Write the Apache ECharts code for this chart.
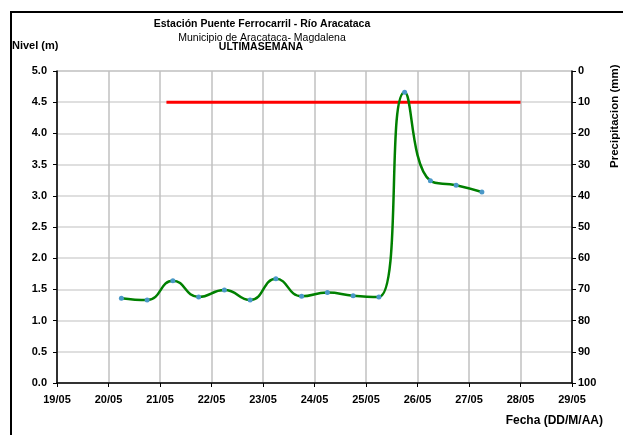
<!DOCTYPE html>
<html>
<head>
<meta charset="utf-8">
<script src="https://cdn.jsdelivr.net/npm/echarts@6/dist/echarts.min.js"></script>
<style>
  html, body { margin: 0; padding: 0; background: #fff; }
  #chart { width: 623px; height: 435px; }
</style>
</head>
<body>
<div id="chart"></div>
<script>
// fechas del eje x (un tick por dia)
var dayLabels = ['19/05', '20/05', '21/05', '22/05', '23/05', '24/05', '25/05', '26/05', '27/05', '28/05', '29/05'];

// lecturas de nivel (dia/mes hora)
var levelTimes = ['20/05 06:00', '20/05 18:00', '21/05 06:00', '21/05 18:00', '22/05 06:00', '22/05 18:00',
                  '23/05 06:00', '23/05 18:00', '24/05 06:00', '24/05 18:00', '25/05 06:00', '25/05 18:00',
                  '26/05 06:00', '26/05 18:00', '27/05 06:00'];
var levelValues = [1.36, 1.33, 1.64, 1.38, 1.49, 1.33, 1.67, 1.39, 1.45, 1.40, 1.38, 4.66, 3.24, 3.17, 3.06];

// nivel de alerta
var alertTimes = ['21/05 03:00', '28/05 00:00'];
var alertValues = [4.5, 4.5];

// eje derecho precipitacion
var precipMin = 0, precipMax = 100, precipStep = 10;

// "dd/mm hh:mm" -> dias desde 19/05 00:00
function toDay(s) {
    var parts = s.split(' ');
    var hm = parts[1].split(':');
    var idx = dayLabels.indexOf(parts[0]);
    return idx + (parseInt(hm[0]) + parseInt(hm[1]) / 60) / 24;
}

var levelData = levelTimes.map(function (t, i) { return [toDay(t), levelValues[i]]; });
var alertData = alertTimes.map(function (t, i) { return [toDay(t), alertValues[i]]; });

var boldLabel = { color: '#000', fontSize: 11, fontWeight: 'bold', fontFamily: 'Arial' };

var myChart = echarts.init(document.getElementById('chart'));

var option = {
    animation: false,
    backgroundColor: '#fff',
    title: [
        {
            text: 'Estación Puente Ferrocarril - Río Aracataca',
            left: 262, top: 19, textAlign: 'center', padding: 0,
            textStyle: { fontSize: 10.5, fontWeight: 'bold', color: '#000', fontFamily: 'Arial' }
        },
        {
            text: 'Municipio de Aracataca- Magdalena',
            left: 262, top: 32.5, textAlign: 'center', padding: 0,
            textStyle: { fontSize: 10.5, fontWeight: 'normal', color: '#000', fontFamily: 'Arial' }
        },
        {
            text: 'ULTIMASEMANA',
            left: 261, top: 41.5, textAlign: 'center', padding: 0,
            textStyle: { fontSize: 10.5, fontWeight: 'bold', color: '#000', fontFamily: 'Arial' }
        }
    ],
    graphic: [
        {
            type: 'rect', silent: true,
            shape: { x: 11, y: 12, width: 700, height: 500 },
            style: { fill: 'none', stroke: '#000', lineWidth: 2 }
        },
        {
            type: 'text', left: 12, top: 40,
            style: { text: 'Nivel (m)', fill: '#000', font: 'bold 11px Arial' }
        },
        {
            type: 'text', right: 20, top: 415,
            style: { text: 'Fecha (DD/M/AA)', fill: '#000', font: 'bold 12px Arial' }
        },
        {
            type: 'text', x: 609, y: 168, rotation: Math.PI / 2,
            style: { text: 'Precipitacion (mm)', fill: '#000', font: 'bold 11.5px Arial' }
        }
    ],
    grid: {
        left: 57, right: 51, top: 71, bottom: 52,
        show: true, borderColor: '#808080', borderWidth: 1
    },
    xAxis: {
        type: 'value',
        min: 0, max: dayLabels.length - 1, interval: 1,
        axisLine: { lineStyle: { color: '#000', width: 1.5 } },
        axisTick: { show: true, length: 4, lineStyle: { color: '#000' } },
        axisLabel: Object.assign({ margin: 11, formatter: function (v) { return dayLabels[Math.round(v)]; } }, boldLabel),
        splitLine: { show: true, lineStyle: { color: '#c0c0c0', width: 1.5 } }
    },
    yAxis: [
        {
            type: 'value',
            min: 0, max: 5, interval: 0.5,
            axisLine: { show: true, lineStyle: { color: '#000', width: 1.5 } },
            axisTick: { show: true, length: 4, lineStyle: { color: '#000' } },
            axisLabel: Object.assign({ margin: 10, formatter: function (v) { return v.toFixed(1); } }, boldLabel),
            splitLine: { show: true, lineStyle: { color: '#d4d4d4', width: 1.5 } }
        },
        {
            type: 'value', position: 'right', inverse: true,
            min: precipMin, max: precipMax, interval: precipStep,
            axisLine: { show: true, lineStyle: { color: '#000', width: 1.5 } },
            axisTick: { show: true, length: 4, lineStyle: { color: '#000' } },
            axisLabel: Object.assign({ margin: 6 }, boldLabel),
            splitLine: { show: false }
        }
    ],
    series: [
        {
            name: 'Alerta',
            type: 'line',
            data: alertData,
            showSymbol: false,
            lineStyle: { color: '#ff0000', width: 3 },
            z: 3
        },
        {
            name: 'Nivel',
            type: 'line',
            data: levelData,
            smooth: 0.5,
            symbol: 'circle',
            symbolSize: 5,
            itemStyle: { color: '#4a98c8', borderWidth: 0 },
            lineStyle: { color: '#008000', width: 2.5 },
            z: 4
        }
    ]
};

myChart.setOption(option);
</script>
</body>
</html>
